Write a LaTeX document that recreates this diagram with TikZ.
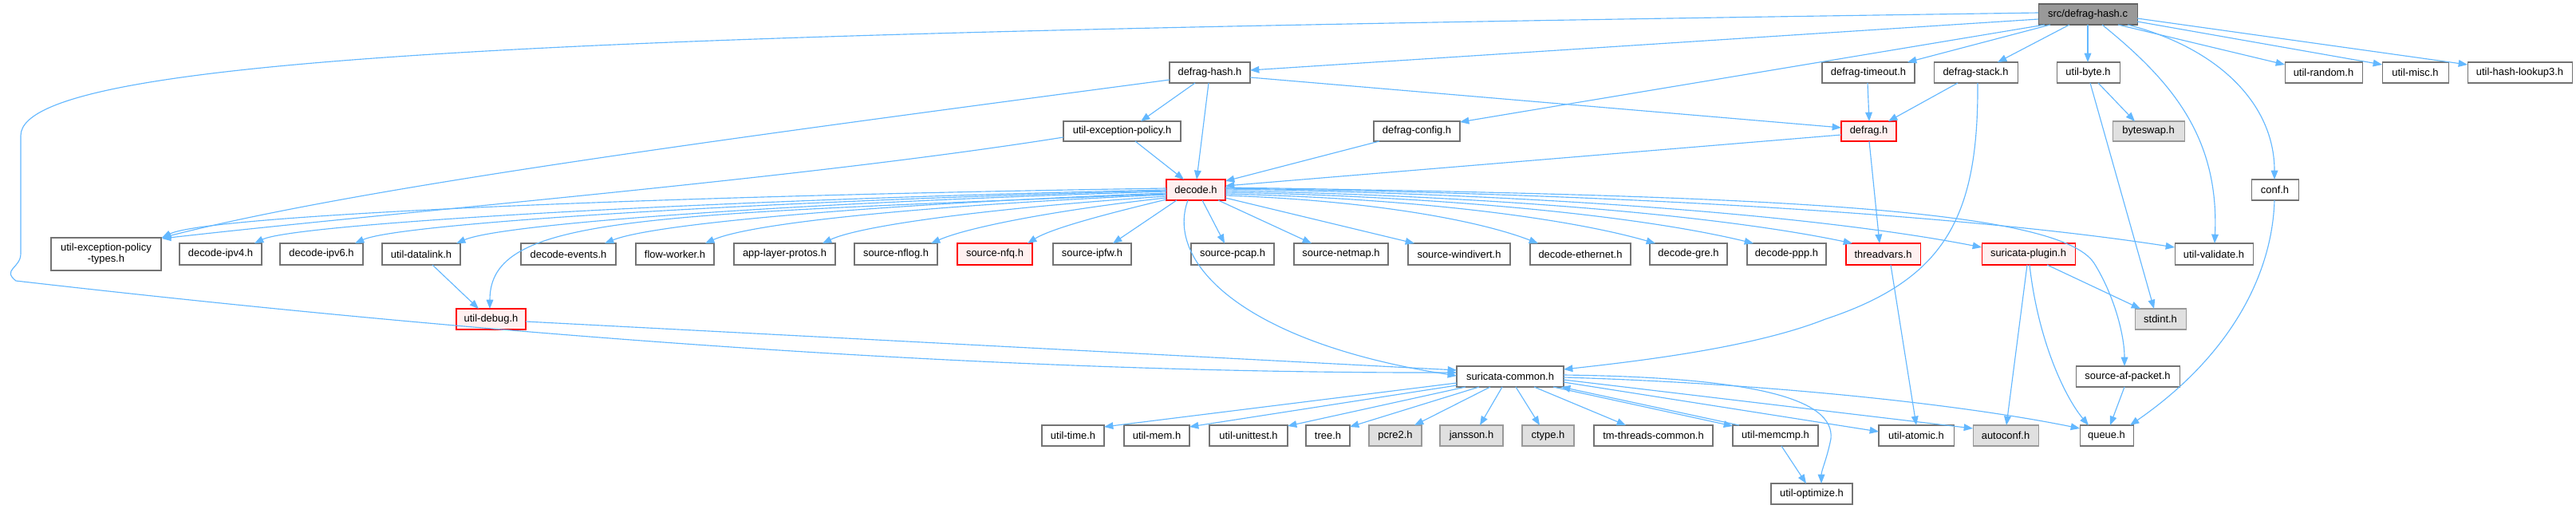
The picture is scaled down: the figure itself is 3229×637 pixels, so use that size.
\documentclass[tikz,border=0pt]{standalone}
\usepackage{fontspec}
\setmainfont{Liberation Sans}
\usetikzlibrary{arrows.meta,calc}
\definecolor{edgec}{HTML}{63B8FF}
\definecolor{bordn}{HTML}{737373}
\definecolor{redb}{HTML}{FF0000}
\definecolor{redf}{HTML}{FFF0F0}
\definecolor{grayb}{HTML}{999999}
\definecolor{grayf}{HTML}{E0E0E0}
\definecolor{rootf}{HTML}{999999}
\newcommand\nb[7]{%
 \pgfmathsetmacro\nbw{(#3-#2)*0.75}%
 \pgfmathsetmacro\nbh{(#5-#4)*0.75}%
 \node[#6,minimum width=\nbw pt,minimum height=\nbh pt] (#1) at ({(#2+#3)/2},{(#4+#5)/2}) {#7};}
\newcommand\nwp[3]{($(#1.north west)+(#2,#3)$)}
\begin{document}
\begin{tikzpicture}[x=0.75pt,y=-0.75pt,
  box/.style={draw=bordn,fill=white,line width=0.8pt,inner sep=0pt,outer sep=0pt,
    font=\fontsize{9.7}{10.6}\selectfont,align=center},
  plain/.style={box},
  redbox/.style={box,draw=redb,fill=redf},
  graybox/.style={box,draw=grayb,fill=grayf},
  rootbox/.style={box,draw=bordn!85!black,fill=rootf},
  edge/.style={draw=edgec,line width=0.85pt,-{Triangle[length=8.5pt,width=6.5pt]}}]
\useasboundingbox[fill=white] (0,0) rectangle (3229,637);
% row 1
\nb{src}{2555}{2679}{5}{31}{rootbox}{src/defrag-hash.c}
% row 2
\nb{dh}{1466}{1567}{78}{104}{plain}{defrag-hash.h}
\nb{dt}{2284}{2400}{78}{104}{plain}{defrag-timeout.h}
\nb{ds}{2424}{2529}{78}{104}{plain}{defrag-stack.h}
\nb{ub}{2578}{2657}{78}{104}{plain}{util-byte.h}
\nb{ur}{2864}{2961}{78}{104}{plain}{util-random.h}
\nb{um}{2986}{3069}{78}{104}{plain}{util-misc.h}
\nb{uh}{3093}{3224}{78}{104}{plain}{util-hash-lookup3.h}
% row 3
\nb{uep}{1333}{1480}{152}{177}{plain}{util-exception-policy.h}
\nb{dc}{1722}{1830}{152}{177}{plain}{defrag-config.h}
\nb{df}{2308}{2377}{152}{177}{redbox}{defrag.h}
\nb{bs}{2648}{2738}{152}{177}{graybox}{byteswap.h}
% row 4
\nb{dec}{1462}{1536}{225}{251}{redbox}{decode.h}
\nb{conf}{2822}{2881}{225}{251}{plain}{conf.h}
% row 5
\nb{uept}{64}{202}{298}{339}{plain}{util-exception-policy\\-types.h}
\nb{ip4}{225}{328}{305}{332}{plain}{decode-ipv4.h}
\nb{ip6}{351}{455}{305}{332}{plain}{decode-ipv6.h}
\nb{udl}{479}{577}{305}{332}{plain}{util-datalink.h}
\nb{dev}{653}{772}{305}{332}{plain}{decode-events.h}
\nb{fw}{797}{895}{305}{332}{plain}{flow-worker.h}
\nb{alp}{920}{1047}{305}{332}{plain}{app-layer-protos.h}
\nb{nflog}{1071}{1175}{305}{332}{plain}{source-nflog.h}
\nb{nfq}{1200}{1294}{305}{332}{redbox}{source-nfq.h}
\nb{ipfw}{1320}{1418}{305}{332}{plain}{source-ipfw.h}
\nb{pcap}{1493}{1597}{305}{332}{plain}{source-pcap.h}
\nb{netmap}{1622}{1740}{305}{332}{plain}{source-netmap.h}
\nb{windivert}{1765}{1893}{305}{332}{plain}{source-windivert.h}
\nb{eth}{1918}{2044}{305}{332}{plain}{decode-ethernet.h}
\nb{gre}{2068}{2165}{305}{332}{plain}{decode-gre.h}
\nb{ppp}{2190}{2289}{305}{332}{plain}{decode-ppp.h}
\nb{tv}{2314}{2407}{305}{332}{redbox}{threadvars.h}
\nb{plugin}{2484}{2601}{305}{332}{redbox}{suricata-plugin.h}
\nb{uv}{2726}{2824}{305}{332}{plain}{util-validate.h}
% row 6
\nb{udbg}{572}{659}{387}{413}{redbox}{util-debug.h}
\nb{stdint}{2676}{2740}{387}{413}{graybox}{stdint.h}
% row 7
\nb{sc}{1826}{1960}{459}{485}{plain}{suricata-common.h}
\nb{afp}{2602}{2732}{459}{485}{plain}{source-af-packet.h}
% row 8
\nb{utime}{1306}{1384}{533}{559}{plain}{util-time.h}
\nb{umem}{1409}{1491}{533}{559}{plain}{util-mem.h}
\nb{uut}{1516}{1614}{533}{559}{plain}{util-unittest.h}
\nb{tree}{1637}{1692}{533}{559}{plain}{tree.h}
\nb{pcre}{1716}{1782}{533}{559}{graybox}{pcre2.h}
\nb{jans}{1805}{1884}{533}{559}{graybox}{jansson.h}
\nb{ctype}{1908}{1973}{533}{559}{graybox}{ctype.h}
\nb{tmt}{1998}{2147}{533}{559}{plain}{tm-threads-common.h}
\nb{umc}{2172}{2279}{533}{559}{plain}{util-memcmp.h}
\nb{uat}{2355}{2449}{533}{559}{plain}{util-atomic.h}
\nb{autoconf}{2473}{2555}{533}{559}{graybox}{autoconf.h}
\nb{queue}{2607}{2674}{533}{559}{plain}{queue.h}
% row 9
\nb{uopt}{2220}{2322}{606}{632}{plain}{util-optimize.h}
% ---------- edges from src
\draw[edge] \nwp{src}{0}{19} -- \nwp{dh}{101}{10};
\draw[edge] \nwp{src}{0}{11} .. controls (900,40) and (26,60) .. (26,170) -- (26,318)
  .. controls (26,336) and (2,338) .. (20,352) .. controls (700,430) and (1300,468) .. \nwp{sc}{0}{8};
\draw[edge] \nwp{src}{8}{26} -- \nwp{dc}{108}{1};
\draw[edge] \nwp{src}{15}{26} -- \nwp{dt}{107}{0};
\draw[edge] \nwp{src}{39}{26} -- \nwp{ds}{80}{0};
\draw[edge] \nwp{src}{62}{26} -- \nwp{ub}{39}{0};
\draw[edge] \nwp{src}{80}{26} .. controls (2720,100) and (2782,170) .. \nwp{uv}{50}{0};
\draw[edge] \nwp{src}{112}{26} .. controls (2780,60) and (2851,130) .. \nwp{conf}{29}{0};
\draw[edge] \nwp{src}{100}{26} -- \nwp{ur}{0}{3};
\draw[edge] \nwp{src}{124}{22} -- \nwp{um}{0}{3};
\draw[edge] \nwp{src}{124}{18} -- \nwp{uh}{0}{3};
% ---------- row 2 / 3
\draw[edge] \nwp{dh}{32}{26} -- \nwp{uep}{97}{0};
\draw[edge] \nwp{dh}{49}{26} -- \nwp{dec}{38}{0};
\draw[edge] \nwp{dh}{101}{19} -- \nwp{df}{0}{8};
\draw[edge] \nwp{dh}{0}{22} .. controls (900,175) and (450,235) .. \nwp{uept}{139}{0};
\draw[edge] \nwp{uep}{0}{20} .. controls (1000,225) and (500,265) .. \nwp{uept}{139}{1};
\draw[edge] \nwp{uep}{90}{25} -- \nwp{dec}{22}{0};
\draw[edge] \nwp{dc}{7}{25} -- \nwp{dec}{74}{2};
\draw[edge] \nwp{df}{0}{17} -- \nwp{dec}{74}{8};
\draw[edge] \nwp{dt}{57}{26} -- \nwp{df}{35}{0};
\draw[edge] \nwp{ds}{30}{26} -- \nwp{df}{59}{0};
\draw[edge] \nwp{ds}{55}{26} .. controls (2480,270) and (2440,350) .. (2288,400)
  .. controls (2200,435) and (2060,452) .. \nwp{sc}{134}{4};
\draw[edge] \nwp{ub}{52}{26} -- \nwp{bs}{28}{0};
\draw[edge] \nwp{ub}{42}{26} -- \nwp{stdint}{24}{0};
\draw[edge] \nwp{df}{35}{25} -- \nwp{tv}{42}{0};
\draw[edge] \nwp{conf}{29}{26} .. controls (2848,350) and (2790,450) .. \nwp{queue}{63}{0};
% ---------- decode.h fan
\draw[edge] \nwp{dec}{0}{11} .. controls (800,246) and (260,270) .. \nwp{uept}{139}{0};
\draw[edge] \nwp{dec}{0}{13} .. controls (900,250) and (370,280) .. \nwp{ip4}{94}{0};
\draw[edge] \nwp{dec}{0}{14} .. controls (950,252) and (500,280) .. \nwp{ip6}{94}{0};
\draw[edge] \nwp{dec}{0}{15} .. controls (1000,254) and (630,280) .. \nwp{udl}{93}{0};
\draw[edge] \nwp{dec}{0}{18} .. controls (800,270) and (614,270) .. \nwp{udbg}{42}{0};
\draw[edge] \nwp{dec}{0}{17} .. controls (1100,256) and (820,280) .. \nwp{dev}{105}{0};
\draw[edge] \nwp{dec}{0}{19} .. controls (1150,258) and (940,280) .. \nwp{fw}{87}{0};
\draw[edge] \nwp{dec}{0}{21} .. controls (1250,260) and (1080,282) .. \nwp{alp}{111}{0};
\draw[edge] \nwp{dec}{0}{23} .. controls (1350,260) and (1220,282) .. \nwp{nflog}{96}{0};
\draw[edge] \nwp{dec}{0}{25} .. controls (1400,265) and (1320,285) .. \nwp{nfq}{88}{0};
\draw[edge] \nwp{dec}{13}{26} -- \nwp{ipfw}{75}{0};
\draw[edge] \nwp{dec}{27}{26} .. controls (1460,330) and (1560,430) .. \nwp{sc}{0}{12};
\draw[edge] \nwp{dec}{45}{26} -- \nwp{pcap}{42}{0};
\draw[edge] \nwp{dec}{65}{26} -- \nwp{netmap}{22}{0};
\draw[edge] \nwp{dec}{74}{23} -- \nwp{windivert}{8}{0};
\draw[edge] \nwp{dec}{74}{20} .. controls (1712,251) and (1850,275) .. \nwp{eth}{10}{0};
\draw[edge] \nwp{dec}{74}{18} .. controls (1779,249) and (1967,274) .. \nwp{gre}{7}{0};
\draw[edge] \nwp{dec}{74}{16} .. controls (1834,247) and (2066,273) .. \nwp{ppp}{8}{0};
\draw[edge] \nwp{dec}{74}{14} .. controls (1890,246) and (2165,272) .. \nwp{tv}{8}{0};
\draw[edge] \nwp{dec}{74}{12} .. controls (1963,244) and (2294,273) .. \nwp{plugin}{0}{5};
\draw[edge] \nwp{dec}{74}{11} .. controls (2071,243) and (2488,273) .. \nwp{uv}{0}{5};
\draw[edge] \nwp{dec}{74}{10} .. controls (2200,245) and (2580,260) .. (2625,330)
  .. controls (2650,370) and (2663,420) .. \nwp{afp}{61}{0};
% ---------- lower
\draw[edge] \nwp{udl}{63}{27} -- \nwp{udbg}{28}{0};
\draw[edge] \nwp{udbg}{87}{16} -- \nwp{sc}{0}{5};
\draw[edge] \nwp{tv}{56}{27} -- \nwp{uat}{47}{0};
\draw[edge] \nwp{plugin}{82}{27} -- \nwp{stdint}{7}{0};
\draw[edge] \nwp{plugin}{57}{27} -- \nwp{autoconf}{42}{0};
\draw[edge] \nwp{plugin}{60}{27} .. controls (2555,430) and (2590,500) .. \nwp{queue}{11}{0};
\draw[edge] \nwp{afp}{61}{26} -- \nwp{queue}{38}{0};
\draw[edge] \nwp{sc}{0}{21} -- \nwp{utime}{78}{2};
\draw[edge] \nwp{sc}{0}{24} -- \nwp{umem}{82}{2};
\draw[edge] \nwp{sc}{11}{26} -- \nwp{uut}{98}{1};
\draw[edge] \nwp{sc}{28}{26} -- \nwp{tree}{55}{2};
\draw[edge] \nwp{sc}{42}{26} -- \nwp{pcre}{57}{0};
\draw[edge] \nwp{sc}{57}{26} -- \nwp{jans}{50}{0};
\draw[edge] \nwp{sc}{74}{26} -- \nwp{ctype}{22}{0};
\draw[edge] \nwp{sc}{97}{26} -- \nwp{tmt}{40}{0};
\draw[edge] \nwp{sc}{121}{26} -- \nwp{umc}{0}{1};
\draw[edge] \nwp{umc}{8}{0} -- \nwp{sc}{131}{26};
\draw[edge] \nwp{sc}{134}{20} -- \nwp{uat}{0}{8};
\draw[edge] \nwp{sc}{134}{17} -- \nwp{autoconf}{0}{4};
\draw[edge] \nwp{sc}{134}{14} .. controls (2200,480) and (2450,505) .. \nwp{queue}{0}{4};
\draw[edge] \nwp{sc}{134}{11} .. controls (2200,473) and (2300,500) .. (2295,550)
  .. controls (2290,575) and (2283,590) .. \nwp{uopt}{63}{0};
\draw[edge] \nwp{umc}{61}{26} -- \nwp{uopt}{44}{0};
\end{tikzpicture}
\end{document}
